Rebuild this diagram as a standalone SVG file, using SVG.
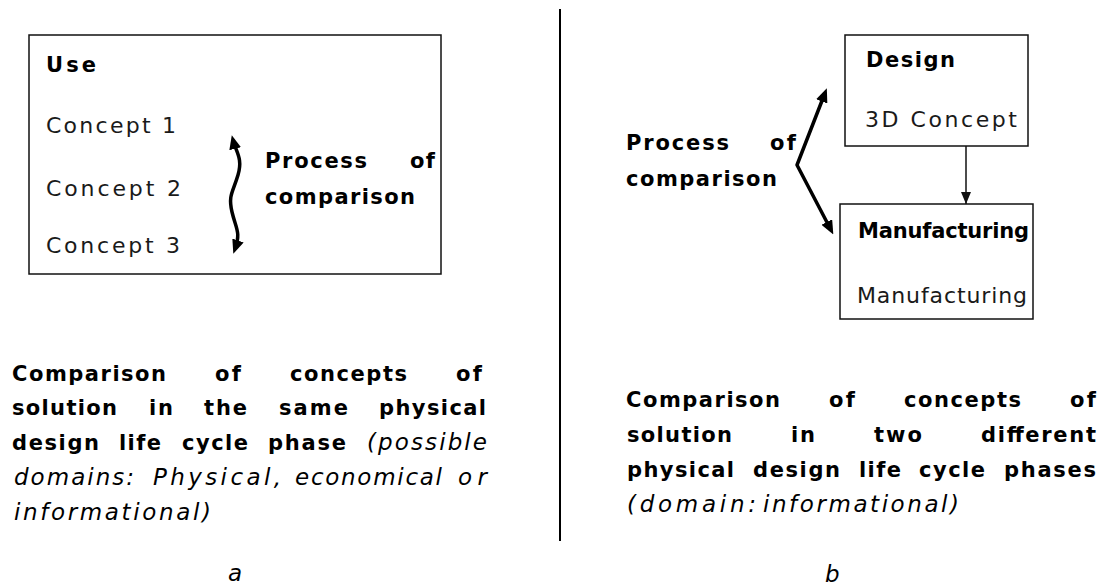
<svg xmlns="http://www.w3.org/2000/svg" width="1109" height="586" viewBox="0 0 1109 586">
<style>
text{font-family:"DejaVu Sans","Liberation Sans",Arial,sans-serif;fill:#000}
.b{font-weight:bold;font-size:21px}
.r{font-size:22px;fill:#1a1a1a}
.i{font-style:italic;font-size:23px}
.box{fill:#fff;stroke:#111;stroke-width:1.5}
.thick{fill:none;stroke:#000;stroke-width:3.5;stroke-linejoin:round}
.thin{fill:none;stroke:#111;stroke-width:1.5}
</style>
<defs>
<marker id="big" markerUnits="userSpaceOnUse" markerWidth="14" markerHeight="12" refX="9" refY="6" orient="auto-start-reverse">
<path d="M0,0 L14,6 L0,12 z" fill="#000"/>
</marker>
<marker id="small" markerUnits="userSpaceOnUse" markerWidth="12" markerHeight="10" refX="12" refY="5" orient="auto">
<path d="M0,0 L12,5 L0,10 z" fill="#111"/>
</marker>
</defs>
<rect width="1109" height="586" fill="#fff"/>
<line x1="560" y1="9" x2="560" y2="541" stroke="#000" stroke-width="2"/>

<g id="use-box">
<rect class="box" x="29" y="35" width="412" height="239"/>
<text class="b" x="46" y="72" textLength="50" lengthAdjust="spacing">Use</text>
<text class="r" x="46" y="133" textLength="130" lengthAdjust="spacing">Concept 1</text>
<text class="r" x="46" y="196" textLength="135" lengthAdjust="spacing">Concept 2</text>
<text class="r" x="46" y="253" textLength="134" lengthAdjust="spacing">Concept 3</text>
<text class="b" x="265" y="168" textLength="102" lengthAdjust="spacing">Process</text>
<text class="b" x="410" y="168" textLength="25" lengthAdjust="spacing">of</text>
<text class="b" x="265" y="204" textLength="150" lengthAdjust="spacing">comparison</text>
</g>

<g id="design-box">
<rect class="box" x="845" y="35" width="183" height="111"/>
<text class="b" x="866" y="67" textLength="89" lengthAdjust="spacing">Design</text>
<text class="r" x="865" y="127" textLength="152" lengthAdjust="spacing">3D Concept</text>
</g>

<g id="manufacturing-box">
<rect class="box" x="840" y="204" width="193" height="115"/>
<text class="b" x="858" y="238" textLength="171" lengthAdjust="spacing">Manufacturing</text>
<text class="r" x="857" y="303" textLength="170" lengthAdjust="spacing">Manufacturing</text>
</g>

<g id="process-b">
<text class="b" x="626" y="150" textLength="103" lengthAdjust="spacing">Process</text>
<text class="b" x="770" y="150" textLength="26" lengthAdjust="spacing">of</text>
<text class="b" x="626" y="186" textLength="151" lengthAdjust="spacing">comparison</text>
</g>

<g id="connectors">
<path class="thick" d="M233,140 C236,152 243,158 238,175 S228,195 232,212 S241,232 235,249" marker-start="url(#big)" marker-end="url(#big)"/>
<polyline class="thick" points="825,93 797,165 831,230" marker-start="url(#big)" marker-end="url(#big)"/>
<line class="thin" x1="966" y1="146" x2="966" y2="204" marker-end="url(#small)"/>
</g>

<g id="caption-a">
<text class="b" x="12" y="381" textLength="154" lengthAdjust="spacing">Comparison</text>
<text class="b" x="215" y="381" textLength="26" lengthAdjust="spacing">of</text>
<text class="b" x="290" y="381" textLength="117" lengthAdjust="spacing">concepts</text>
<text class="b" x="456" y="381" textLength="26" lengthAdjust="spacing">of</text>
<text class="b" x="12" y="415" textLength="105" lengthAdjust="spacing">solution</text>
<text class="b" x="149" y="415" textLength="24" lengthAdjust="spacing">in</text>
<text class="b" x="204" y="415" textLength="43" lengthAdjust="spacing">the</text>
<text class="b" x="279" y="415" textLength="69" lengthAdjust="spacing">same</text>
<text class="b" x="379" y="415" textLength="107" lengthAdjust="spacing">physical</text>
<text class="b" x="12" y="450" textLength="87" lengthAdjust="spacing">design</text>
<text class="b" x="119" y="450" textLength="42" lengthAdjust="spacing">life</text>
<text class="b" x="182" y="450" textLength="66" lengthAdjust="spacing">cycle</text>
<text class="b" x="268" y="450" textLength="78" lengthAdjust="spacing">phase</text>
<text class="i" x="367" y="450" textLength="120" lengthAdjust="spacing">(possible</text>
<text class="i" x="14" y="485" textLength="120" lengthAdjust="spacing">domains:</text>
<text class="i" x="153" y="485" textLength="128" lengthAdjust="spacing">Physical,</text>
<text class="i" x="295" y="485" textLength="147" lengthAdjust="spacing">economical</text>
<text class="i" x="458" y="485" textLength="29" lengthAdjust="spacing">or</text>
<text class="i" x="14" y="520" textLength="197" lengthAdjust="spacing">informational)</text>
<text class="i" x="228" y="581">a</text>
</g>

<g id="caption-b">
<text class="b" x="626" y="407" textLength="154" lengthAdjust="spacing">Comparison</text>
<text class="b" x="829" y="407" textLength="26" lengthAdjust="spacing">of</text>
<text class="b" x="904" y="407" textLength="117" lengthAdjust="spacing">concepts</text>
<text class="b" x="1070" y="407" textLength="26" lengthAdjust="spacing">of</text>
<text class="b" x="627" y="442" textLength="105" lengthAdjust="spacing">solution</text>
<text class="b" x="791" y="442" textLength="24" lengthAdjust="spacing">in</text>
<text class="b" x="874" y="442" textLength="48" lengthAdjust="spacing">two</text>
<text class="b" x="981" y="442" textLength="115" lengthAdjust="spacing">different</text>
<text class="b" x="627" y="477" textLength="107" lengthAdjust="spacing">physical</text>
<text class="b" x="753" y="477" textLength="87" lengthAdjust="spacing">design</text>
<text class="b" x="859" y="477" textLength="42" lengthAdjust="spacing">life</text>
<text class="b" x="919" y="477" textLength="66" lengthAdjust="spacing">cycle</text>
<text class="b" x="1004" y="477" textLength="92" lengthAdjust="spacing">phases</text>
<text class="i" x="627" y="512" textLength="129" lengthAdjust="spacing">(domain:</text>
<text class="i" x="763" y="512" textLength="196" lengthAdjust="spacing">informational)</text>
<text class="i" x="825" y="582">b</text>
</g>
</svg>
